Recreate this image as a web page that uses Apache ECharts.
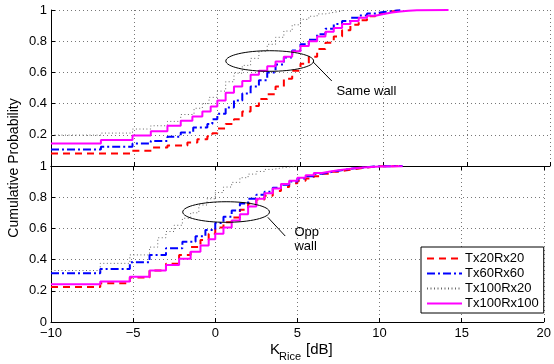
<!DOCTYPE html>
<html>
<head>
<meta charset="utf-8">
<script src="https://cdn.jsdelivr.net/npm/echarts@6/dist/echarts.min.js"></script>
<style>
html,body{margin:0;padding:0;background:#fff;}
#chart{width:554px;height:364px;}
</style>
</head>
<body>
<div id="chart"></div>
<script>
// ---------- data ----------
const seriesNames = ['Tx20Rx20', 'Tx60Rx60', 'Tx100Rx20', 'Tx100Rx100'];
const xTicks = [-10, -5, 0, 5, 10, 15, 20];
const yTicks = [0, 0.2, 0.4, 0.6, 0.8, 1];

// Top panel (Same wall)
const topRedK = [-10,-5.2,-3.9,-3.0,-1.8,-1.2,-0.6,-0.3,0,0.5,1.0,1.5,2.0,2.5,3.0,3.5,4.0,4.5,5.0,5.5,6.0,6.5,7,7.5,8,8.5,9,9.5,10,10.5,11];
const topRedP = [0.08,0.097,0.118,0.131,0.15,0.172,0.19,0.21,0.24,0.27,0.30,0.35,0.385,0.43,0.46,0.51,0.56,0.61,0.656,0.70,0.75,0.79,0.83,0.87,0.905,0.935,0.96,0.978,0.99,0.997,1];

const topBlueK = [-10,-7,-5.1,-4,-3,-2.2,-1.45,-0.6,-0.3,0,0.5,1.0,1.5,2.0,2.5,3.0,3.5,4.0,4.5,5,5.5,6,6.5,7,7.5,8,8.5,9,9.5,10,10.5,11];
const topBlueP = [0.105,0.123,0.144,0.161,0.187,0.215,0.247,0.27,0.30,0.335,0.375,0.42,0.465,0.51,0.55,0.60,0.65,0.695,0.74,0.78,0.81,0.845,0.88,0.91,0.93,0.95,0.965,0.978,0.987,0.993,0.998,1];

const topGrayK = [-10,-7,-5.1,-4,-3,-2.2,-1.4,-0.9,-0.5,0,0.5,1.0,1.5,2.0,2.5,3.0,3.5,4.0,4.5,5,5.5,6,6.5,7,7.5];
const topGrayP = [0.198,0.211,0.237,0.258,0.286,0.33,0.37,0.40,0.44,0.48,0.54,0.595,0.645,0.69,0.735,0.78,0.825,0.865,0.905,0.94,0.96,0.975,0.985,0.993,1];

const topMagK = [-10,-7,-5.1,-4,-3,-2.2,-1.5,-0.9,-0.4,0,0.5,1.0,1.5,2.0,2.5,3.0,3.5,4.0,4.5,5,5.5,6,6.5,7,7.5,8,8.5,9,9.5,10,10.5,11,11.5,12,13.9];
const topMagP = [0.145,0.167,0.195,0.222,0.258,0.29,0.318,0.35,0.382,0.42,0.47,0.51,0.545,0.585,0.61,0.64,0.67,0.70,0.735,0.77,0.80,0.83,0.86,0.885,0.91,0.93,0.95,0.963,0.975,0.984,0.99,0.995,0.998,1,1];

// Bottom panel (Opp wall)
const botRedK = [-10,-7,-5.2,-4,-3,-2.2,-1.5,-0.9,-0.4,0,0.5,1.0,1.5,2.0,2.5,3.0,3.5,4,4.5,5,5.5,6,6.5,7,7.5,8,8.5,9,9.5,10,11.4];
const botRedP = [0.224,0.248,0.285,0.33,0.374,0.43,0.48,0.525,0.565,0.605,0.64,0.67,0.72,0.76,0.785,0.81,0.84,0.865,0.89,0.905,0.92,0.935,0.95,0.963,0.972,0.98,0.988,0.994,0.998,1,1];

const botBlueK = [-10,-7,-5.2,-4,-3,-2,-1.2,-0.6,0,0.5,1.0,1.5,2.0,2.5,3,3.5,4,4.5,5,5.5,6,6.5,7,7.5,8,8.5,9,9.5,10,11.4];
const botBlueP = [0.312,0.34,0.383,0.43,0.472,0.515,0.55,0.59,0.635,0.675,0.715,0.76,0.79,0.815,0.835,0.86,0.88,0.90,0.92,0.935,0.95,0.96,0.97,0.978,0.985,0.99,0.995,0.998,1,1];

const botGrayK = [-10,-7,-5.2,-4,-3.5,-3,-2.5,-2,-1.5,-1,-0.5,0,0.5,1,1.5,2,2.5,3,3.5,4,4.5,5];
const botGrayP = [0.33,0.376,0.43,0.48,0.54,0.58,0.62,0.665,0.70,0.75,0.79,0.83,0.865,0.895,0.925,0.948,0.965,0.978,0.987,0.993,0.998,1];

const botMagK = [-10,-7,-5.2,-4,-3,-2.2,-1.5,-0.9,-0.4,0,0.5,1.0,1.5,2.0,2.5,3.0,3.5,4.0,4.5,5,5.5,6,6.5,7,7.5,8,8.5,9,9.5,10,11.4];
const botMagP = [0.242,0.26,0.29,0.33,0.365,0.405,0.45,0.49,0.53,0.565,0.605,0.65,0.69,0.74,0.79,0.825,0.855,0.885,0.905,0.925,0.94,0.955,0.965,0.973,0.98,0.986,0.99,0.994,0.997,0.999,1];

// ---------- styles ----------
const FONT = "'Liberation Sans', Arial, Helvetica, sans-serif";
const styles = [
  {color:'#ff0000', width:2, type:[7,5]},
  {color:'#0000ff', width:2, type:[8,3,2,3]},
  {color:'#666666', width:1, type:[1,2.5]},
  {color:'#ff00ff', width:2, type:'solid'}
];
function pairs(k, p){ return k.map((v,i)=>[v, p[i]]); }
const topData = [pairs(topRedK,topRedP), pairs(topBlueK,topBlueP), pairs(topGrayK,topGrayP), pairs(topMagK,topMagP)];
const botData = [pairs(botRedK,botRedP), pairs(botBlueK,botBlueP), pairs(botGrayK,botGrayP), pairs(botMagK,botMagP)];

const gridLine = {show:true, lineStyle:{color:'#777', width:1, type:[1,3]}};
const fmtX = v => v < 0 ? '\u2212' + Math.abs(v) : String(v);

function xAxisCfg(gridIndex, showLabel, position){
  return {
    type:'value', gridIndex, min:xTicks[0], max:xTicks[xTicks.length-1], interval:5,
    position,
    axisLine:{show:true, onZero:false, lineStyle:{color:'#000', width:1}},
    axisTick:{show:true, inside:true, length:4, lineStyle:{color:'#000'}},
    axisLabel:{show:showLabel, formatter:fmtX, color:'#000', fontFamily:FONT, fontSize:13, margin:5},
    splitLine: position==='top' ? {show:false} : gridLine
  };
}
function yAxisCfg(gridIndex, hideZero){
  return {
    type:'value', gridIndex, min:yTicks[0], max:yTicks[yTicks.length-1], interval:0.2,
    axisLine:{show:true, onZero:false, lineStyle:{color:'#000', width:1}},
    axisTick:{show:true, inside:true, length:4, lineStyle:{color:'#000'}},
    axisLabel:{color:'#000', fontFamily:FONT, fontSize:13, margin:4,
      formatter: v => (hideZero && v===0) ? '' : String(+v.toFixed(1))},
    splitLine:gridLine
  };
}

const series = [];
seriesNames.forEach((n,i)=>{
  series.push({name:n, type:'line', xAxisIndex:0, yAxisIndex:0, data:topData[i], step:'end',
    symbol:'none', showSymbol:false, animation:false, lineStyle:styles[i], itemStyle:{color:styles[i].color}, z:2+i});
});
seriesNames.forEach((n,i)=>{
  series.push({name:n, type:'line', xAxisIndex:1, yAxisIndex:1, data:botData[i], step:'end',
    symbol:'none', showSymbol:false, animation:false, lineStyle:styles[i], itemStyle:{color:styles[i].color}, z:2+i});
});

const chart = echarts.init(document.getElementById('chart'), null, {renderer:'canvas'});
chart.setOption({
  animation:false,
  backgroundColor:'#fff',
  grid:[
    {left:51, right:4, top:10, height:156},
    {left:51, right:4, top:166, height:156}
  ],
  xAxis:[xAxisCfg(0,false,'bottom'), xAxisCfg(1,true,'bottom'), xAxisCfg(1,false,'top')],
  yAxis:[yAxisCfg(0,true), yAxisCfg(1,false)],
  legend:{
    data:seriesNames, orient:'vertical', left:421, top:247,
    itemWidth:35, itemHeight:14, itemGap:2,
    backgroundColor:'#fff', borderColor:'#000', borderWidth:1, borderRadius:0,
    padding:[5,5,3,5],
    itemStyle:{opacity:0},
    textStyle:{color:'#000', fontFamily:FONT, fontSize:13, padding:[0,0,0,-2]},
    selectedMode:false
  },
  series
});

// ---------- annotations (placed in data coordinates) ----------
const annTop = {ellipse:[3.15, 0.673], rx:2.64, ry:0.066, line:[[5.76,0.667],[6.88,0.545]], text:[7.16,0.476], label:'Same wall'};
const annBot = {ellipse:[0.66, 0.705], rx:2.64, ry:0.066, line:[[3.2,0.671],[4.26,0.551]], text:[4.82,0.53], label:'Opp\nwall'};

function annGraphics(a, gi){
  const c = chart.convertToPixel({gridIndex:gi}, a.ellipse);
  const ex = chart.convertToPixel({gridIndex:gi}, [a.ellipse[0]+a.rx, a.ellipse[1]+a.ry]);
  const l0 = chart.convertToPixel({gridIndex:gi}, a.line[0]);
  const l1 = chart.convertToPixel({gridIndex:gi}, a.line[1]);
  const t = chart.convertToPixel({gridIndex:gi}, a.text);
  return [
    {type:'ellipse', shape:{cx:c[0], cy:c[1], rx:ex[0]-c[0], ry:c[1]-ex[1]}, style:{fill:'none', stroke:'#000', lineWidth:1}, z:100},
    {type:'line', shape:{x1:l0[0], y1:l0[1], x2:l1[0], y2:l1[1]}, style:{stroke:'#000', lineWidth:1}, z:100},
    {type:'text', x:t[0], y:t[1], style:{text:a.label, fill:'#000', font:'13px '+FONT, align:'left', verticalAlign:'middle', lineHeight:14}, z:100}
  ];
}

chart.setOption({
  graphic:[
    ...annGraphics(annTop,0),
    ...annGraphics(annBot,1),
    {type:'text', x:14, y:168, rotation:Math.PI/2, style:{text:'Cumulative Probability', fill:'#000', font:'14px '+FONT, align:'center', verticalAlign:'middle'}},
    {type:'text', x:270, y:350, style:{text:'K', fill:'#000', font:'15px '+FONT, align:'left', verticalAlign:'middle'}},
    {type:'text', x:279, y:356.5, style:{text:'Rice', fill:'#000', font:'11px '+FONT, align:'left', verticalAlign:'middle'}},
    {type:'text', x:306, y:350, style:{text:'[dB]', fill:'#000', font:'15px '+FONT, align:'left', verticalAlign:'middle'}}
  ]
});
</script>
</body>
</html>
